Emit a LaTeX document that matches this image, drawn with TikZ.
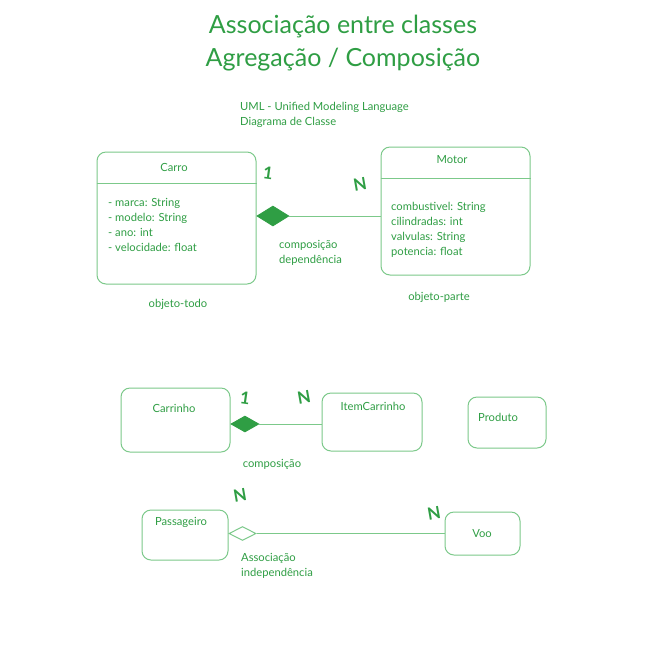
\documentclass[tikz,border=0pt]{standalone}
\usepackage{fontspec}
\setmainfont{Lato}
\usetikzlibrary{shapes.geometric}
\definecolor{exgreen}{HTML}{2F9E44}
\definecolor{exline}{HTML}{7CC98A}
\begin{document}
\begin{tikzpicture}[x=1pt,y=-1pt,
  classbox/.style={draw=exline,line width=1pt,rounded corners=9pt,inner sep=0pt},
  lbl/.style={text=exgreen,font=\fontsize{11.2}{15}\selectfont,inner sep=0pt},
  attr/.style={lbl,align=left,anchor=north west},
  mult/.style={text=exgreen,font=\fontsize{17}{17}\selectfont\bfseries,inner sep=0pt},
  comp/.style={diamond,draw=exgreen,fill=exgreen,line width=0.8pt,inner sep=0pt,minimum width=32pt,minimum height=20pt},
  aggr/.style={diamond,draw=exline,fill=white,line width=1pt,inner sep=0pt,minimum width=27pt,minimum height=14pt},
  conn/.style={draw=exline,line width=1pt}]
\fill[white] (0,0) rectangle (671,649);
\useasboundingbox (0,0) rectangle (671,649);

% titles
\node[text=exgreen,font=\fontsize{25}{33}\selectfont,align=center,inner sep=0pt] (title) at (343,43) {Associação entre classes\\Agregação / Composição};
\node[lbl,align=left,anchor=west] (uml) at (240,114.5) {UML - Unified Modeling Language\\Diagrama de Classe};

% Carro
\node[classbox,minimum width=159pt,minimum height=132pt] (carro) at (176.5,218) {};
\draw[conn] (carro.west |- 0,183) -- (carro.east |- 0,183);
\node[lbl] (carroname) at (174,167) {Carro};
\node[attr] (carroattr) at (108,198.5) {- marca: String\\- modelo: String\\- ano: int\\- velocidade: float};
\node[lbl] (todo) at (178,304) {objeto-todo};

% Motor
\node[classbox,minimum width=149pt,minimum height=128pt] (motor) at (455.5,211) {};
\draw[conn] (motor.west |- 0,178) -- (motor.east |- 0,178);
\node[lbl] (motorname) at (452,160) {Motor};
\node[attr] (motorattr) at (391,202.5) {combustivel: String\\cilindradas: int\\valvulas: String\\potencia: float};
\node[lbl] (parte) at (439,297) {objeto-parte};

% composition Carro-Motor
\node[comp,anchor=west] (d1) at (carro.east |- 0,216) {};
\draw[conn] (d1.east) -- (motor.west |- d1.east);
\node[lbl,align=left,anchor=west] (c1) at (279,252.5) {composição\\dependência};
\node[mult,rotate=-8] (m1a) at (268,173) {1};
\node[mult,rotate=10] (m1b) at (360,184) {N};

% Carrinho
\node[classbox,minimum width=109pt,minimum height=64pt] (carrinho) at (175.5,420) {};
\node[lbl] (carrinhoname) at (174,408) {Carrinho};
\node[classbox,minimum width=100pt,minimum height=58pt] (item) at (372,422) {};
\node[lbl] (itemname) at (373,406) {ItemCarrinho};
\node[classbox,minimum width=78pt,minimum height=51pt] (produto) at (507,422.5) {};
\node[lbl] (produtoname) at (498,417) {Produto};
\node[comp,anchor=west,minimum width=28pt,minimum height=16pt] (d2) at (carrinho.east |- 0,424) {};
\draw[conn] (d2.east) -- (item.west |- d2.east);
\node[lbl] (c2) at (272,464) {composição};
\node[mult,rotate=-8] (m2a) at (245,398) {1};
\node[mult,rotate=10] (m2b) at (304,397) {N};

% Passageiro - Voo
\node[classbox,minimum width=86pt,minimum height=50pt] (pass) at (185,535) {};
\node[lbl] (passname) at (181,522) {Passageiro};
\node[classbox,minimum width=75pt,minimum height=43pt] (voo) at (482.5,533.5) {};
\node[lbl] (vooname) at (482,534) {Voo};
\node[aggr,anchor=west] (d3) at (pass.east |- 0,533.5) {};
\draw[conn] (d3.east) -- (voo.west |- d3.east);
\node[lbl,align=left,anchor=west] (c3) at (241,565.5) {Associação\\independência};
\node[mult,rotate=10] (m3a) at (240,495) {N};
\node[mult,rotate=10] (m3b) at (434,513) {N};
\end{tikzpicture}
\end{document}
